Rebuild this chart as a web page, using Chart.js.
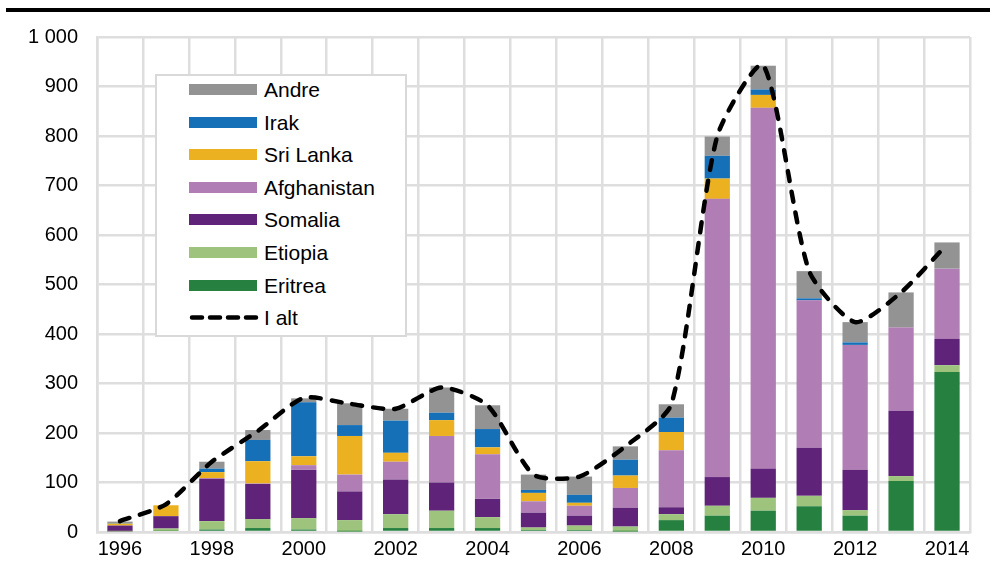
<!DOCTYPE html>
<html>
<head>
<meta charset="utf-8">
<script src="https://cdn.jsdelivr.net/npm/chart.js@4/dist/chart.umd.min.js"></script>
<style>
  html, body { margin: 0; padding: 0; background: #fff; }
  #wrap { position: relative; width: 991px; height: 570px; overflow: hidden; }
  #topline { position: absolute; left: 6px; top: 8px; width: 984px; height: 4px; background: #000; }
  #legend {
    position: absolute; left: 155px; top: 74px; width: 248px; height: 259px;
    background: #fff; border: 2px solid #d9d9d9;
    font-family: "Liberation Sans", Arial, sans-serif; font-size: 21px; color: #000;
  }
  .row { position: absolute; left: 0; height: 24px; width: 100%; }
  .sw { position: absolute; left: 32px; top: 6px; width: 68px; height: 11px; }
  .dash { position: absolute; left: 32px; top: 6px; width: 70px; height: 11px; }
  .lbl { position: absolute; left: 107px; top: 0; line-height: 24px; white-space: nowrap; }
</style>
</head>
<body>
<div id="wrap">
  <canvas id="chart" width="991" height="570"></canvas>
  <div id="topline"></div>
  <div id="legend"></div>
</div>
<script>
// Asylsøkere etter land, 1996-2014
const years = ['1996','1997','1998','1999','2000','2001','2002','2003','2004','2005',
               '2006','2007','2008','2009','2010','2011','2012','2013','2014'];

const eritrea   = [0, 2, 5, 8, 5, 1, 8, 8, 8, 4, 4, 1, 24, 33, 43, 52, 33, 103, 323];
const etiopia   = [1, 5, 17, 18, 23, 23, 28, 35, 22, 5, 9, 10, 12, 20, 26, 21, 11, 10, 14];
const somalia   = [12, 25, 85, 71, 98, 58, 70, 57, 37, 30, 20, 38, 14, 58, 59, 97, 82, 132, 53];
const afghanistan = [0, 0, 2, 1, 9, 34, 36, 94, 90, 23, 20, 40, 115, 562, 729, 298, 252, 168, 142];
const sriLanka  = [4, 22, 12, 45, 18, 78, 18, 32, 14, 17, 6, 25, 37, 41, 26, 0, 0, 0, 0];
const irak      = [1, 0, 7, 43, 109, 22, 65, 15, 37, 6, 16, 32, 29, 46, 11, 4, 5, 0, 0];
const andre     = [3, 0, 14, 20, 8, 44, 24, 51, 48, 31, 37, 27, 27, 39, 48, 55, 41, 71, 53];
const iAlt      = [22, 56, 142, 204, 271, 259, 249, 292, 256, 116, 112, 173, 258, 800, 943, 527, 424, 484, 581];

const yTicks = [0, 100, 200, 300, 400, 500, 600, 700, 800, 900, 1000];

// stack order bottom -> top
const serier = [
  { label: 'Eritrea', data: eritrea, color: '#268140' },
  { label: 'Etiopia', data: etiopia, color: '#9dc37c' },
  { label: 'Somalia', data: somalia, color: '#5f2479' },
  { label: 'Afghanistan', data: afghanistan, color: '#b07db4' },
  { label: 'Sri Lanka', data: sriLanka, color: '#ebb120' },
  { label: 'Irak', data: irak, color: '#1570b7' },
  { label: 'Andre', data: andre, color: '#939393' }
];

const gridColor = '#dedede';

Chart.defaults.font.family = '"Liberation Sans", Arial, sans-serif';
Chart.defaults.font.size = 20;
Chart.defaults.color = '#000';

const datasets = serier.map(s => ({
  type: 'bar',
  label: s.label,
  data: s.data,
  backgroundColor: s.color,
  borderWidth: 0,
  stack: 'land',
  order: 1,
  categoryPercentage: 1,
  barPercentage: 0.55
}));

datasets.push({
  type: 'line',
  label: 'I alt',
  data: iAlt,
  borderColor: '#000',
  borderWidth: 4.5,
  borderDash: [10, 11],
  borderCapStyle: 'round',
  tension: 0.22,
  pointRadius: 0,
  fill: false,
  stack: 'total',
  order: 0
});

new Chart(document.getElementById('chart'), {
  data: { labels: years, datasets: datasets },
  options: {
    responsive: false,
    animation: false,
    layout: { padding: { top: 37, right: 21, bottom: 0, left: 0 } },
    plugins: {
      legend: { display: false },
      tooltip: { enabled: false }
    },
    scales: {
      x: {
        stacked: true,
        afterFit: (s) => { s.height = 38; },
        grid: { color: gridColor, lineWidth: 2.5, drawTicks: false, offset: true },
        border: { color: gridColor, width: 2.5 },
        ticks: {
          padding: 5,
          autoSkip: false,
          maxRotation: 0,
          callback: (v, i) => (i % 2 === 0 ? years[i] : '')
        }
      },
      y: {
        stacked: true,
        min: 0,
        max: 1000,
        afterFit: (s) => { s.width = 97; },
        afterBuildTicks: (s) => { s.ticks = yTicks.map(v => ({ value: v })); },
        grid: { color: gridColor, lineWidth: 2.5, drawTicks: false },
        border: { color: gridColor, width: 2.5 },
        ticks: {
          padding: 19,
          callback: (v) => String(v).replace(/\B(?=(\d{3})+(?!\d))/g, ' ')
        }
      }
    }
  }
});

// legend, top of stack first
const legend = document.getElementById('legend');
const rader = serier.slice().reverse().concat([{ label: 'I alt', line: true }]);
rader.forEach((r, i) => {
  const row = document.createElement('div');
  row.className = 'row';
  row.style.top = (2 + i * 32.6) + 'px';
  if (r.line) {
    const c = document.createElement('canvas');
    c.className = 'dash';
    c.width = 70; c.height = 11;
    const ctx = c.getContext('2d');
    ctx.strokeStyle = '#000';
    ctx.lineWidth = 4.5;
    ctx.lineCap = 'round';
    ctx.setLineDash([10, 8]);
    ctx.beginPath();
    ctx.moveTo(3, 5.5);
    ctx.lineTo(68, 5.5);
    ctx.stroke();
    row.appendChild(c);
  } else {
    const sw = document.createElement('div');
    sw.className = 'sw';
    sw.style.background = r.color;
    row.appendChild(sw);
  }
  const lbl = document.createElement('div');
  lbl.className = 'lbl';
  lbl.textContent = r.label;
  row.appendChild(lbl);
  legend.appendChild(row);
});
</script>
</body>
</html>
